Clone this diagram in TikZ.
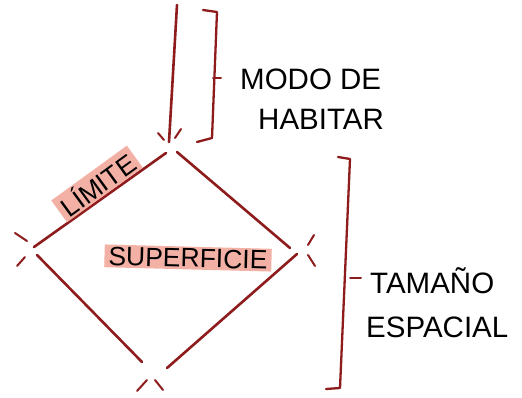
\documentclass[tikz,border=0pt]{standalone}
\usepackage{fontspec}
\setmainfont{Liberation Sans}
\definecolor{ink}{HTML}{8E1C1C}
\definecolor{hl}{HTML}{F2A497}
\begin{document}
\begin{tikzpicture}[x=1pt,y=-1pt,
  edge/.style={draw=ink,line width=2.6pt,line cap=round},
  tick/.style={draw=ink,line width=2pt,line cap=round},
  lab/.style={inner sep=0pt,anchor=base west,text=black,font=\fontsize{29.5}{31}\selectfont},
  hilite/.style={fill=hl,fill opacity=0.85,text opacity=1,inner xsep=4pt,inner ysep=2pt,font=\fontsize{26.5}{28}\selectfont}]
\useasboundingbox (0,0) rectangle (522,398);
\fill[white] (0,0) rectangle (522,398);
% vertical line above top
\coordinate (vtop) at (177,5);
\coordinate (vbot) at (169,142);
\draw[edge] (vtop) -- (vbot);
% diamond edges with gaps at vertices
\coordinate (tl1) at (166,153);
\coordinate (tl2) at (34,247);
\coordinate (tr1) at (177,152);
\coordinate (tr2) at (290,248);
\coordinate (br1) at (297,254);
\coordinate (br2) at (167,368);
\coordinate (bl1) at (37,255);
\coordinate (bl2) at (142,362);
\draw[edge] (tl1) -- (tl2);
\draw[edge] (tr1) -- (tr2);
\draw[edge] (br1) -- (br2);
\draw[edge] (bl1) -- (bl2);
% ticks at vertices
\coordinate (a1) at (158,133); \coordinate (a2) at (164,140);
\coordinate (a3) at (181,129); \coordinate (a4) at (175,138);
\draw[tick] (a1) -- (a2); \draw[tick] (a3) -- (a4);
\coordinate (b1) at (15,233); \coordinate (b2) at (27,241);
\coordinate (b3) at (17,266); \coordinate (b4) at (25,257);
\draw[tick] (b1) -- (b2); \draw[tick] (b3) -- (b4);
\coordinate (c1) at (314,235); \coordinate (c2) at (308,245);
\coordinate (c3) at (308,255); \coordinate (c4) at (315,266);
\draw[tick] (c1) -- (c2); \draw[tick] (c3) -- (c4);
\coordinate (d1) at (137,391); \coordinate (d2) at (147,380);
\coordinate (d3) at (155,380); \coordinate (d4) at (163,390);
\draw[tick] (d1) -- (d2); \draw[tick] (d3) -- (d4);
% top bracket
\coordinate (tb1) at (203,10);
\coordinate (tb2) at (217,12);
\coordinate (tb3) at (212,138);
\coordinate (tb4) at (197,142);
\coordinate (tbm) at (213,78);
\coordinate (tbt) at (221,78);
\draw[edge,line width=2.3pt,line join=round] (tb1) -- (tb2) -- (tb3) -- (tb4);
\draw[tick] (tbm) -- (tbt);
% right bracket
\coordinate (rb1) at (338,157);
\coordinate (rb2) at (350,159);
\coordinate (rb3) at (340,388);
\coordinate (rb4) at (326,389);
\coordinate (rbm) at (350,278);
\coordinate (rbt) at (361,278);
\draw[edge,line width=2.3pt,line join=round] (rb1) -- (rb2) -- (rb3) -- (rb4);
\draw[tick] (rbm) -- (rbt);
% labels
\node[lab] (modo) at (240,90) {MODO DE};
\node[lab] (habitar) at (258,130) {HABITAR};
\node[lab] (tamano) at (370,293) {TAMAÑO};
\node[lab] (espacial) at (366,337) {ESPACIAL};
\node[hilite,rotate=36] (limite) at (97,184) {LÍMITE};
\node[hilite,rotate=-1.5] (superficie) at (188,258) {SUPERFICIE};
\end{tikzpicture}
\end{document}
